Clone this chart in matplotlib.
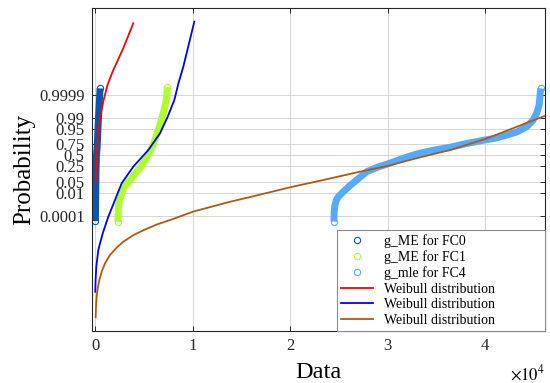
import math
import numpy as np
import matplotlib
matplotlib.use("Agg")
import matplotlib.pyplot as plt

plt.rcParams['font.family'] = ['Liberation Serif', 'DejaVu Serif']
plt.rcParams['mathtext.fontset'] = 'stix'

# y values are normal probability-scale units, z = inverse normal cdf of p
# empirical points (read off the picture)
fc0_x = [40, 50, 60, 80, 100, 150, 220, 260, 330, 420, 480, 520]
fc0_z = [-4.04, -3.5, -3.0, -2.0, -1.0, 0.0, 0.5, 1.0, 2.0, 3.0, 3.7, 4.12]

fc1_x = [2330, 2360, 2390, 2420, 2500, 2640, 2820, 3050, 3590, 4000, 4440, 4950, 5540,
         5880, 6200, 6490, 6760, 7000, 7280, 7380, 7420]
fc1_z = [-4.07, -3.8, -3.56, -3.0, -2.75, -2.54, -2.2, -1.92, -1.51, -1.2, -0.9, -0.49, 0.13,
         0.53, 1.05, 1.56, 2.1, 2.59, 3.3, 3.8, 4.19]

fc4_x = [24510, 24520, 24600, 24750, 25000, 25300, 25700, 26150, 26840, 27860, 29000, 29980,
         31500, 33000, 34700, 36410, 38000, 39830, 41000, 42220, 43300, 44270, 44900, 45300,
         45550, 45640, 45710]
fc4_z = [-4.07, -3.56, -3.1, -2.74, -2.5, -2.33, -2.1, -1.85, -1.51, -1.0, -0.72, -0.53,
         -0.2, 0.09, 0.32, 0.50, 0.72, 0.93, 1.05, 1.25, 1.45, 1.76, 2.15, 2.59,
         3.1, 3.71, 4.12]

# fitted weibull curves
red_x = [72, 113, 185, 308, 513, 841, 1282, 1795, 2349, 2821, 3364, 3928]
red_z = [-1.65, -0.77, 0.23, 1.25, 2.28, 3.30, 4.33, 5.13, 5.86, 6.48, 7.28, 8.12]

blue_x = [31, 62, 133, 338, 790, 1364, 2051, 2738, 3928, 5467, 6667, 7456, 8133, 8564, 9056, 10185]
blue_z = [-8.38, -7.66, -6.84, -5.81, -4.79, -3.77, -2.74, -1.71, -0.69, 0.33, 1.36, 2.38, 3.40,
          4.45, 5.45, 8.22]

brown_x = [69, 103, 171, 274, 444, 684, 1026, 1538, 2222, 2906, 3932, 4957, 6325, 8034,
           10085, 12137, 13846, 17000, 20000, 23500, 27180, 29980, 33000, 36410, 40000,
           43250, 46200]
brown_z = [-9.95, -9.30, -8.68, -8.17, -7.66, -7.15, -6.63, -6.12, -5.67, -5.3, -4.9, -4.6,
           -4.25, -3.9, -3.45, -3.12, -2.85, -2.4, -1.96, -1.5, -1.0, -0.65, -0.17, 0.33,
           1.0, 1.76, 2.45]

prob_ticks = [0.0001, 0.01, 0.05, 0.25, 0.5, 0.75, 0.95, 0.99, 0.9999]
prob_labels = ['0.0001', '0.01', '0.05', '0.25', '0.5', '0.75', '0.95', '0.99', '0.9999']
x_ticks = [0, 1e4, 2e4, 3e4, 4e4]
x_labels = ['0', '1', '2', '3', '4']


def norm_ppf(p):
    lo, hi = -15.0, 15.0
    for _ in range(200):
        mid = 0.5 * (lo + hi)
        if 0.5 * math.erfc(-mid / math.sqrt(2)) < p:
            lo = mid
        else:
            hi = mid
    return 0.5 * (lo + hi)


fig = plt.figure(figsize=(5.5, 3.83), dpi=100)
ax = fig.add_axes([0.1667, 0.1358, 0.8251, 0.8446])

c0 = '#0d55a8'
c1 = '#adff2f'
c4 = '#55aaff'

for xs, zs, c, lab in [(fc0_x, fc0_z, c0, 'g_ME for FC0'),
                       (fc1_x, fc1_z, c1, 'g_ME for FC1'),
                       (fc4_x, fc4_z, c4, 'g_mle for FC4')]:
    ax.plot(xs, zs, '-', color=c, lw=5, solid_capstyle='butt', solid_joinstyle='round', zorder=2)
    ax.plot(xs[:1] + xs[-1:], zs[:1] + zs[-1:], 'o', mfc='none', mec=c, ms=4.5, mew=0.8,
            zorder=2, label=lab)

ax.plot(red_x, red_z, color='#ff0000', lw=1.3, zorder=3, label='Weibull distribution')
ax.plot(blue_x, blue_z, color='#0000ff', lw=1.3, zorder=3, label='Weibull distribution')
ax.plot(brown_x, brown_z, color='#b05a10', lw=1.3, zorder=3, label='Weibull distribution')

ax.set_xlim(-340, 46200)
ax.set_ylim(-10.79, 9.09)
ax.set_xticks(x_ticks)
ax.set_xticklabels(x_labels)
ax.set_yticks([norm_ppf(p) for p in prob_ticks])
ax.set_yticklabels(prob_labels)

ax.grid(True, color='#d6d6d6', lw=0.7)
ax.set_axisbelow(True)
ax.tick_params(direction='in', length=3.5, width=0.7, top=True, right=True,
               labelsize=12, pad=5, colors='#262626')
for s in ax.spines.values():
    s.set_color('#262626')
    s.set_linewidth(0.8)

ax.set_xlabel('Data', fontsize=17.5, labelpad=6)
ax.set_ylabel('Probability', fontsize=18, labelpad=3)
ax.text(1.0, -0.152, r'$\times 10^{4}$', transform=ax.transAxes, ha='right',
        va='baseline', fontsize=12)

leg = ax.legend(loc='lower left', bbox_to_anchor=(0.540, 0.0, 0.460, 0.3), mode='expand',
                borderaxespad=0, fontsize=10, labelspacing=0.18, handlelength=2.3,
                handletextpad=0.8, borderpad=0.3, fancybox=False, framealpha=1)
leg.get_frame().set_edgecolor('#8c8c8c')
leg.get_frame().set_linewidth(0.8)

fig.savefig('out.png', dpi=100)
